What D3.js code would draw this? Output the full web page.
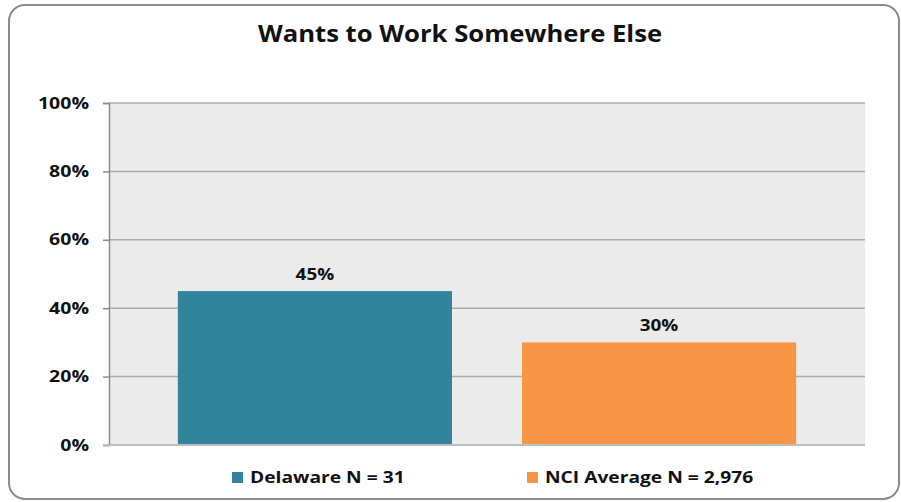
<!DOCTYPE html>
<html>
<head>
<meta charset="utf-8">
<script src="https://cdn.jsdelivr.net/npm/d3@7"></script>
<style>
  body { margin: 0; background: #fff; }
  svg text { font-family: "Open Sans", "Noto Sans", sans-serif; font-weight: bold; fill: #111; }
</style>
</head>
<body>
<div id="container"></div>
<script>
const categories = ["Delaware N = 31", "NCI Average N = 2,976"]
const values = [0.45, 0.30]
const colors = ["#31849B", "#F79646"]
const yTicks = [0, 0.2, 0.4, 0.6, 0.8, 1.0]

const W = 901, H = 502
const margin = { top: 103, right: 36, bottom: 57, left: 109 }
const width = W - margin.left - margin.right
const height = H - margin.top - margin.bottom

// the original text is a bit wider than Open Sans, stretch it
function stretch(sel, k) {
    sel.each(function () {
        const len = this.getComputedTextLength()
        d3.select(this)
            .attr("textLength", len * k)
            .attr("lengthAdjust", "spacingAndGlyphs")
    })
}

const root = d3.select("#container").append("svg")
    .attr("width", W)
    .attr("height", H)

// outer frame
root.append("rect")
    .attr("x", 9).attr("y", 5)
    .attr("width", 890).attr("height", 494)
    .attr("rx", 16)
    .attr("fill", "#fff")
    .attr("stroke", "#8c8c8c")
    .attr("stroke-width", 2)

root.append("text")
    .attr("x", 460)
    .attr("y", 42)
    .attr("text-anchor", "middle")
    .style("font-size", "22.5px")
    .text("Wants to Work Somewhere Else")
    .call(stretch, 1.14)

const svg = root.append("g")
    .attr("transform", "translate(" + margin.left + "," + margin.top + ")")

const xScale = d3.scaleBand()
    .domain(categories)
    .range([0, width])
    .paddingInner(0.2035)
    .paddingOuter(0.2)

const yScale = d3.scaleLinear()
    .domain([0, 1])
    .range([height, 0])

// plot background
svg.append("rect")
    .attr("width", width)
    .attr("height", height)
    .attr("fill", "#EBEBEB")

// gridlines
svg.append("g")
    .selectAll("line")
    .data(yTicks.filter(d => d > 0))
    .enter()
    .append("line")
    .attr("x1", 0).attr("x2", width)
    .attr("y1", d => yScale(d)).attr("y2", d => yScale(d))
    .attr("stroke", "#ABABAB")
    .attr("stroke-width", 1.5)

// bars
svg.selectAll(".bar")
    .data(values)
    .enter()
    .append("rect")
    .attr("class", "bar")
    .attr("x", (d, i) => xScale(categories[i]))
    .attr("width", xScale.bandwidth())
    .attr("y", d => yScale(d))
    .attr("height", d => height - yScale(d))
    .attr("fill", (d, i) => colors[i])

// value labels
svg.selectAll(".val")
    .data(values)
    .enter()
    .append("text")
    .attr("class", "val")
    .attr("x", (d, i) => xScale(categories[i]) + xScale.bandwidth() / 2)
    .attr("y", d => yScale(d) - 11)
    .attr("text-anchor", "middle")
    .style("font-size", "16px")
    .text(d => d3.format(".0%")(d))
    .call(stretch, 1.18)

// y axis
const yAxis = svg.append("g")
    .call(d3.axisLeft(yScale).tickValues(yTicks).tickFormat(d3.format(".0%")).tickSize(6).tickPadding(14))
yAxis.select(".domain").attr("stroke", "#8c8c8c").attr("stroke-width", 1.5)
yAxis.selectAll(".tick line").attr("stroke", "#8c8c8c").attr("stroke-width", 1.5)
yAxis.selectAll(".tick text")
    .style("font-size", "16px")
    .style("font-family", "'Open Sans', 'Noto Sans', sans-serif")
    .style("font-weight", "bold")
    .attr("fill", "#111")
    .call(stretch, 1.22)

// bottom axis line
svg.append("line")
    .attr("x1", -6).attr("x2", width)
    .attr("y1", height).attr("y2", height)
    .attr("stroke", "#BDBDBD")
    .attr("stroke-width", 2)

// legend
const legendX = [232, 527]
const legend = root.append("g")
    .selectAll("g")
    .data(categories)
    .enter()
    .append("g")
    .attr("transform", (d, i) => "translate(" + legendX[i] + ",472)")

legend.append("rect")
    .attr("width", 11).attr("height", 11)
    .attr("fill", (d, i) => colors[i])

legend.append("text")
    .attr("x", 18)
    .attr("y", 11)
    .style("font-size", "16px")
    .text(d => d)
    .call(stretch, 1.2)
</script>
</body>
</html>
